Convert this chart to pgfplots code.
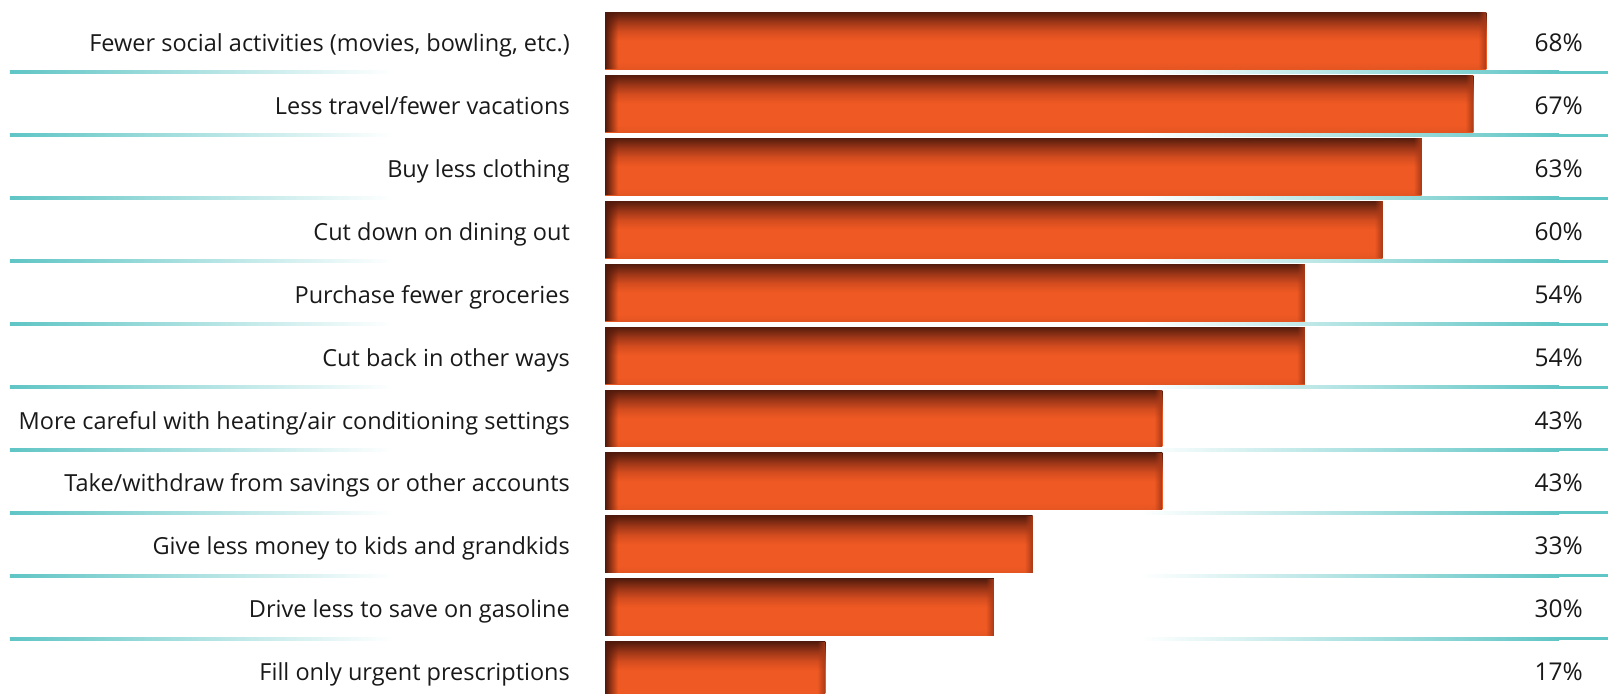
\documentclass[border=0pt]{standalone}
\usepackage{pgfplots}
\pgfplotsset{compat=1.18}
\usepackage{pgfplotstable}
\usepackage{fontspec}
\setmainfont{Open Sans}
\usetikzlibrary{fadings}

\definecolor{barorange}{RGB}{239,89,35}
\definecolor{barbot}{RGB}{228,85,34}
\definecolor{barlow}{RGB}{212,77,31}
\definecolor{barmid}{RGB}{160,55,24}
\definecolor{bartop}{RGB}{85,28,13}
\definecolor{edgedark}{RGB}{80,25,11}
\definecolor{edgeright}{RGB}{168,58,24}
\definecolor{rule}{RGB}{96,197,197}
\definecolor{txt}{RGB}{25,25,25}

% bar body: dark band along the top edge fading into the orange
\pgfdeclareverticalshading{barshade}{100bp}{color(0bp)=(barbot); color(25bp)=(barbot); color(31bp)=(barorange); color(50bp)=(barorange); color(58bp)=(barlow); color(66bp)=(barmid); color(75bp)=(bartop); color(100bp)=(bartop)}
% soft dark edges at both ends of each bar
\tikzfading[name=edgefade, left color=transparent!0, right color=transparent!100]
\tikzfading[name=edgefadeR, left color=transparent!100, right color=transparent!0]

\pgfplotstableread[col sep=semicolon]{
row;pct;label
0;68;Fewer social activities (movies, bowling, etc.)
1;67;Less travel/fewer vacations
2;63;Buy less clothing
3;60;Cut down on dining out
4;54;Purchase fewer groceries
5;54;Cut back in other ways
6;43;More careful with heating/air conditioning settings
7;43;Take/withdraw from savings or other accounts
8;33;Give less money to kids and grandkids
9;30;Drive less to save on gasoline
10;17;Fill only urgent prescriptions
}\data

\begin{document}
\begin{tikzpicture}
\begin{axis}[
  width=1608pt, height=694pt, scale only axis,
  xmin=-46.68, xmax=77.39,
  ymin=-0.643, ymax=10.373, y dir=reverse,
  hide axis,
]
\coordinate (SW) at (rel axis cs:0,0);
\coordinate (NE) at (rel axis cs:1,1);

% row separators, fading towards the middle
\pgfplotsinvokeforeach{0.5,1.5,...,9.5}{
  \shade[left color=rule, right color=white]
    ([yshift=-1.5pt]axis cs:-45.91,#1) rectangle ([yshift=1.5pt]axis cs:-16.4,#1);
  \shade[left color=white, right color=rule]
    ([yshift=-1.5pt]axis cs:41.3,#1) rectangle ([yshift=1.5pt]axis cs:73.6,#1);
  \fill[rule]
    ([yshift=-1.5pt]axis cs:73.5,#1) rectangle ([yshift=1.5pt]axis cs:77.39,#1);
}

% bars, one plot per row so every bar gets its own shading
\pgfplotsinvokeforeach{0,...,10}{
  \addplot[xbar, bar width=57pt, bar shift=0pt, draw=none, shading=barshade,
    restrict y to domain=#1:#1]
    table[x=pct, y=row] {\data};
  \addplot[xbar, bar width=57pt, bar shift=0pt, draw=none, fill=edgedark,
    path fading=edgefade, restrict y to domain=#1:#1]
    table[x expr=1.0, y=row] {\data};
}

% darker rim at the end of each bar
\addplot[draw=none, mark=none, nodes near coords={},
  every node near coord/.style={anchor=east, inner sep=0pt, outer sep=0pt,
    minimum width=8pt, minimum height=57pt, fill=edgeright, path fading=edgefadeR}]
  table[x=pct, y=row] {\data};

% category names
\addplot[draw=none, mark=none, point meta=explicit symbolic,
  nodes near coords,
  every node near coord/.append style={anchor=base east, yshift=-10.5pt, inner sep=0pt,
    font=\fontsize{23.5}{28}\selectfont, text=txt}]
  table[x expr=-2.70, y=row, meta=label] {\data};

% percentages
\addplot[draw=none, mark=none, point meta=explicit symbolic,
  nodes near coords={\pgfplotspointmeta\%},
  every node near coord/.append style={anchor=base east, yshift=-10.5pt, inner sep=0pt,
    font=\fontsize{24.5}{29}\selectfont, text=txt}]
  table[x expr=75.46, y=row, meta=pct] {\data};
\end{axis}
\pgfresetboundingbox
\path (SW) rectangle (NE);
\end{tikzpicture}
\end{document}
